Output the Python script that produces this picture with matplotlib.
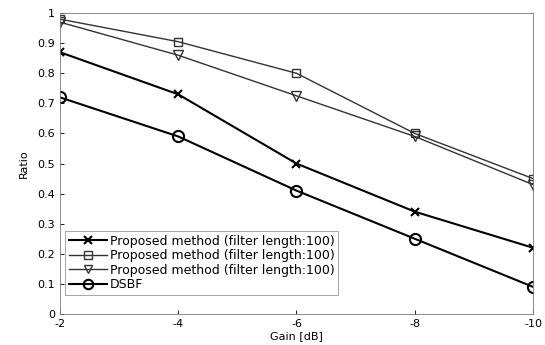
import matplotlib
matplotlib.use("Agg")
import matplotlib.pyplot as plt

# ---- data ----
gain = [-2, -4, -6, -8, -10]
prop_x = [0.87, 0.73, 0.50, 0.34, 0.22]
prop_sq = [0.98, 0.905, 0.80, 0.60, 0.45]
prop_tri = [0.97, 0.86, 0.725, 0.59, 0.43]
dsbf = [0.72, 0.59, 0.41, 0.25, 0.09]
labels = ["Proposed method (filter length:100)",
          "Proposed method (filter length:100)",
          "Proposed method (filter length:100)",
          "DSBF"]

plt.rcParams["font.family"] = ["DejaVu Sans"]
plt.rcParams["font.size"] = 8

fig = plt.figure(figsize=(5.45, 3.45), dpi=100)
ax = fig.add_axes([0.11, 0.09, 0.868, 0.872])

ax.plot(gain, prop_x, "k-", marker="x", ms=6, mew=1.5, lw=1.5, label=labels[0])
ax.plot(gain, prop_sq, "-", color="#333333", marker="s", ms=6, mfc="none",
        mew=1.0, lw=1.0, label=labels[1])
ax.plot(gain, prop_tri, "-", color="#333333", marker="v", ms=7, mfc="none",
        mew=1.0, lw=1.0, label=labels[2])
ax.plot(gain, dsbf, "k-", marker="o", ms=8, mfc="none", mew=1.5, lw=1.5,
        label=labels[3])

ax.set_xlim(-2, -10)
ax.set_ylim(0, 1)
ax.set_xticks(gain)
ax.set_xticklabels([str(g) for g in gain])
ax.set_yticks([0, 0.1, 0.2, 0.3, 0.4, 0.5, 0.6, 0.7, 0.8, 0.9, 1])
ax.set_yticklabels(["0", "0.1", "0.2", "0.3", "0.4", "0.5", "0.6", "0.7",
                    "0.8", "0.9", "1"])
ax.tick_params(direction="in", length=3, width=0.6)
for s in ax.spines.values():
    s.set_linewidth(0.6)
    s.set_color("#777777")

ax.set_xlabel("Gain [dB]", labelpad=2)
ax.set_ylabel("Ratio", labelpad=6)

leg = ax.legend(loc="lower left", bbox_to_anchor=(0.005, 0.055), fontsize=9,
                handlelength=3.1, handletextpad=0.2, labelspacing=0.12,
                borderpad=0.3, borderaxespad=0.2, fancybox=False,
                markerscale=0.85, edgecolor="#999999", framealpha=1)
leg.get_frame().set_linewidth(0.6)

plt.savefig("out.png", dpi=100)
